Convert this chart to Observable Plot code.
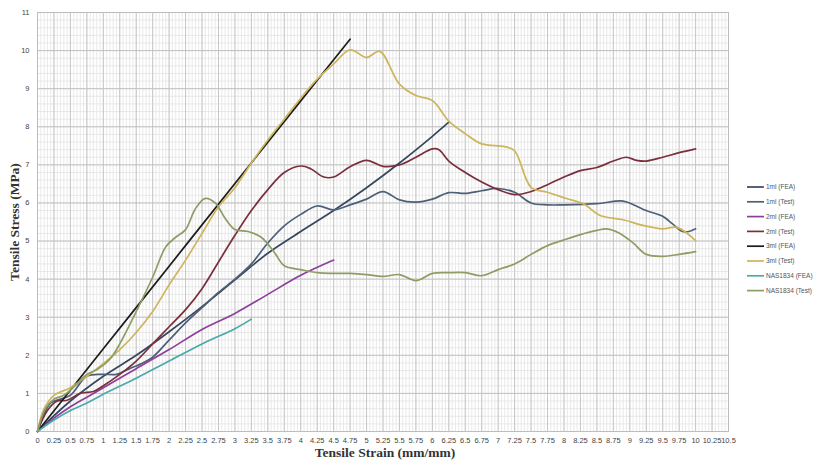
<!DOCTYPE html>
<html>
<head>
<meta charset="utf-8">
<script src="https://cdn.jsdelivr.net/npm/d3@7"></script>
<script src="https://cdn.jsdelivr.net/npm/@observablehq/plot@0.6"></script>
<style>
  html, body { margin: 0; padding: 0; background: #fff; }
  #chart { width: 818px; height: 466px; }
</style>
</head>
<body>
<div id="chart"></div>
<script>
// ---- Data ----
const seriesNames = ["1ml (FEA)", "1ml (Test)", "2ml (FEA)", "2ml (Test)", "3ml (FEA)", "3ml (Test)", "NAS1834 (FEA)", "NAS1834 (Test)"];
const seriesColors = ["#37465f", "#4d6077", "#8e3f9c", "#7a2f3d", "#1b1b1b", "#cdb55a", "#4aa9aa", "#8d9d64"];

const fea1_x = [0, 0.5, 1.0, 1.5, 2.0, 2.5, 3.0, 3.5, 4.0, 4.5, 5.0, 5.5, 6.0, 6.25];
const fea1_y = [0, 0.8, 1.45, 2.0, 2.62, 3.28, 3.98, 4.68, 5.25, 5.8, 6.4, 7.05, 7.75, 8.12];

const test1_x = [0, 0.2, 0.35, 0.5, 0.75, 1.0, 1.2, 1.4, 1.6, 1.75, 2.0, 2.25, 2.5, 2.75, 3.0, 3.25, 3.5, 3.75, 4.0, 4.25, 4.5, 4.75, 5.0, 5.25, 5.5, 5.75, 6.0, 6.25, 6.5, 6.75, 7.0, 7.25, 7.5, 7.75, 8.0, 8.5, 8.9, 9.1, 9.25, 9.5, 9.65, 9.8, 9.9, 10.0];
const test1_y = [0, 0.75, 0.85, 0.95, 1.45, 1.5, 1.5, 1.65, 1.8, 1.95, 2.4, 2.85, 3.25, 3.65, 4.0, 4.4, 4.95, 5.4, 5.7, 5.92, 5.82, 5.95, 6.1, 6.3, 6.08, 6.02, 6.1, 6.27, 6.25, 6.32, 6.38, 6.28, 6.0, 5.95, 5.95, 5.98, 6.05, 5.92, 5.8, 5.65, 5.45, 5.25, 5.25, 5.32];

const fea2_x = [0, 0.25, 0.5, 0.75, 1.0, 1.5, 2.0, 2.5, 3.0, 3.5, 4.0, 4.5];
const fea2_y = [0, 0.35, 0.65, 0.9, 1.15, 1.65, 2.15, 2.68, 3.1, 3.6, 4.1, 4.5];

const test2_x = [0, 0.15, 0.3, 0.45, 0.65, 0.85, 1.0, 1.25, 1.5, 1.75, 2.0, 2.25, 2.5, 2.75, 3.0, 3.25, 3.5, 3.75, 4.0, 4.15, 4.35, 4.5, 4.75, 5.0, 5.25, 5.5, 5.75, 6.0, 6.1, 6.25, 6.5, 6.75, 7.0, 7.25, 7.5, 7.75, 8.0, 8.25, 8.5, 8.75, 8.95, 9.1, 9.25, 9.5, 9.75, 10.0];
const test2_y = [0, 0.55, 0.8, 0.82, 1.0, 1.05, 1.2, 1.5, 1.85, 2.3, 2.75, 3.2, 3.75, 4.45, 5.15, 5.8, 6.35, 6.8, 6.97, 6.9, 6.68, 6.68, 6.95, 7.12, 6.96, 7.0, 7.2, 7.42, 7.4, 7.1, 6.8, 6.55, 6.35, 6.22, 6.3, 6.48, 6.68, 6.85, 6.93, 7.1, 7.2, 7.12, 7.1, 7.2, 7.32, 7.42];

const fea3_x = [0, 1.0, 2.0, 3.0, 4.0, 4.75];
const fea3_y = [0, 2.17, 4.34, 6.51, 8.68, 10.3];

const test3_x = [0, 0.1, 0.25, 0.5, 0.75, 1.0, 1.25, 1.5, 1.75, 2.0, 2.25, 2.5, 2.75, 3.0, 3.25, 3.5, 3.75, 4.0, 4.25, 4.5, 4.75, 5.0, 5.2, 5.5, 5.75, 6.0, 6.25, 6.5, 6.75, 7.1, 7.25, 7.5, 7.75, 8.05, 8.3, 8.55, 8.9, 9.2, 9.5, 9.72, 10.0];
const test3_y = [0, 0.6, 0.95, 1.15, 1.45, 1.78, 2.15, 2.6, 3.15, 3.85, 4.5, 5.2, 5.9, 6.4, 7.05, 7.65, 8.2, 8.75, 9.25, 9.65, 10.02, 9.82, 9.98, 9.12, 8.82, 8.69, 8.15, 7.82, 7.55, 7.48, 7.37, 6.41, 6.28, 6.11, 5.97, 5.67, 5.56, 5.41, 5.32, 5.36, 5.01];

const nasFea_x = [0, 0.25, 0.5, 0.75, 1.0, 1.5, 2.0, 2.5, 3.0, 3.25];
const nasFea_y = [0, 0.3, 0.55, 0.75, 0.98, 1.4, 1.85, 2.3, 2.7, 2.95];

const nasTest_x = [0, 0.12, 0.25, 0.4, 0.6, 0.75, 0.9, 1.1, 1.25, 1.5, 1.75, 1.95, 2.1, 2.25, 2.4, 2.55, 2.7, 2.85, 3.0, 3.2, 3.4, 3.6, 3.75, 4.0, 4.25, 4.5, 4.75, 5.0, 5.25, 5.5, 5.75, 6.0, 6.25, 6.5, 6.75, 7.0, 7.25, 7.5, 7.75, 8.0, 8.25, 8.5, 8.65, 8.85, 9.05, 9.25, 9.5, 9.75, 10.0];
const nasTest_y = [0, 0.6, 0.85, 0.95, 1.25, 1.5, 1.62, 1.9, 2.3, 3.15, 4.05, 4.85, 5.1, 5.3, 5.85, 6.12, 6.0, 5.6, 5.3, 5.25, 5.1, 4.7, 4.35, 4.25, 4.17, 4.15, 4.15, 4.12, 4.07, 4.12, 3.96, 4.15, 4.17, 4.17, 4.09, 4.25, 4.4, 4.65, 4.88, 5.03, 5.17, 5.28, 5.32, 5.2, 4.95, 4.65, 4.6, 4.65, 4.72];

const xTicks = d3.range(0, 10.51, 0.25);
const yTicks = d3.range(0, 12, 1);

// ---- Build table ----
const seriesXs = [fea1_x, test1_x, fea2_x, test2_x, fea3_x, test3_x, nasFea_x, nasTest_x];
const seriesYs = [fea1_y, test1_y, fea2_y, test2_y, fea3_y, test3_y, nasFea_y, nasTest_y];
const rows = [];
seriesNames.forEach((name, i) => {
  seriesXs[i].forEach((x, j) => rows.push({series: name, x, y: seriesYs[i][j]}));
});

const minorX = d3.range(0, 10.501, 0.05).map(v => +v.toFixed(2));
const minorY = d3.range(0, 11.001, 0.2).map(v => +v.toFixed(1));

const fmt = d => String(+d.toFixed(2));

const chart = Plot.plot({
  width: 818,
  height: 466,
  marginLeft: 37,
  marginRight: 90,
  marginTop: 12,
  marginBottom: 35,
  style: {fontFamily: "'Liberation Sans', Arial, sans-serif", fontSize: "7.5px", color: "#444", background: "#fff"},
  x: {domain: [0, 10.5], ticks: xTicks, tickFormat: fmt, tickSize: 0, tickPadding: 6, label: null},
  y: {domain: [0, 11], ticks: yTicks, tickSize: 0, tickPadding: 8, label: null},
  color: {domain: seriesNames, range: seriesColors},
  marks: [
    Plot.ruleX(minorX, {stroke: "#e3e3e3", strokeWidth: 0.8}),
    Plot.ruleY(minorY, {stroke: "#e3e3e3", strokeWidth: 0.8}),
    Plot.ruleX(xTicks, {stroke: "#c6c6c6", strokeWidth: 1}),
    Plot.ruleY(yTicks, {stroke: "#c2c2c2", strokeWidth: 1}),
    Plot.frame({stroke: "#bdbdbd"}),
    Plot.line(rows, {x: "x", y: "y", z: "series", stroke: "series", strokeWidth: 1.7, curve: "catmull-rom"})
  ]
});

document.getElementById("chart").appendChild(chart);

// ---- Axis titles and legend appended as SVG text ----
const svg = d3.select(chart);
svg.append("text")
  .attr("transform", "translate(19,222) rotate(-90)")
  .attr("text-anchor", "middle")
  .attr("font-family", "'Liberation Serif', 'Times New Roman', serif")
  .attr("font-size", 13.5)
  .attr("font-weight", "bold")
  .attr("fill", "#333")
  .text("Tensile Stress (MPa)");
svg.append("text")
  .attr("x", 385).attr("y", 457)
  .attr("text-anchor", "middle")
  .attr("font-family", "'Liberation Serif', 'Times New Roman', serif")
  .attr("font-size", 13.5)
  .attr("font-weight", "bold")
  .attr("fill", "#333")
  .text("Tensile Strain (mm/mm)");

const lg = svg.append("g").attr("transform", "translate(747,187)");
seriesNames.forEach((name, i) => {
  const g = lg.append("g").attr("transform", `translate(0,${i * 14.8})`);
  g.append("line").attr("x1", 0).attr("x2", 17).attr("y1", 0).attr("y2", 0)
    .attr("stroke", seriesColors[i]).attr("stroke-width", 1.7);
  g.append("text").attr("x", 19).attr("y", 0).attr("dy", "0.35em")
    .attr("text-anchor", "start")
    .attr("font-family", "'Liberation Sans', Arial, sans-serif")
    .attr("font-size", 6.5).attr("fill", "#555").text(name);
});
</script>
</body>
</html>
